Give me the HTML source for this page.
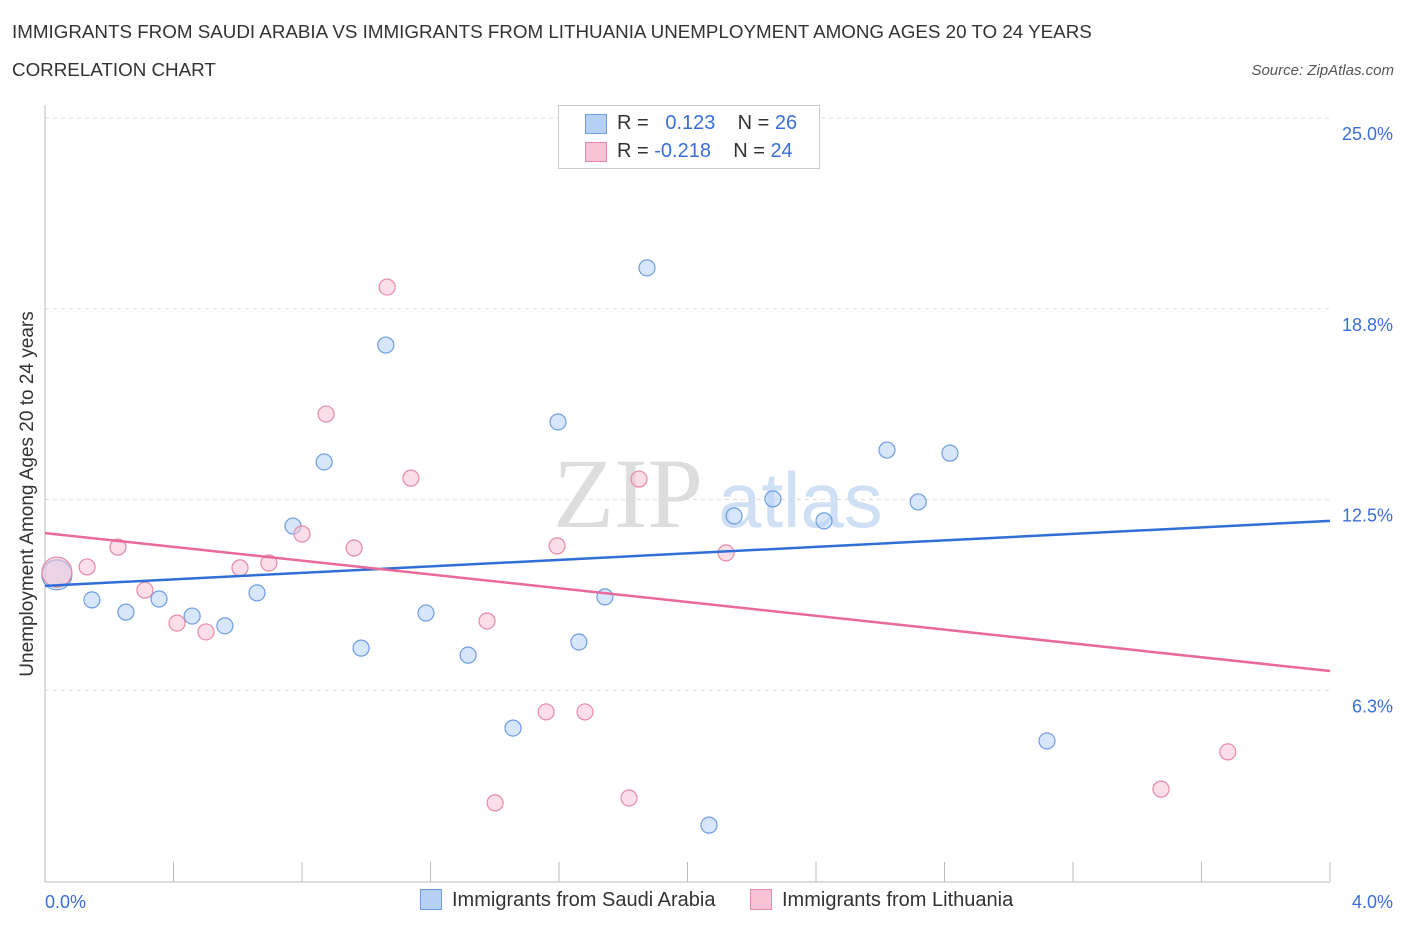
<!DOCTYPE html>
<html><head><meta charset="utf-8"><style>
body{margin:0;background:#fff;font-family:"Liberation Sans",sans-serif;}
#wrap{position:relative;width:1406px;height:930px;overflow:hidden;}
.t{position:absolute;white-space:nowrap;}
</style></head><body>
<div id="wrap">
<div class="t" style="left:12px;top:21px;font-size:18.8px;color:#333;">IMMIGRANTS FROM SAUDI ARABIA VS IMMIGRANTS FROM LITHUANIA UNEMPLOYMENT AMONG AGES 20 TO 24 YEARS</div>
<div class="t" style="left:12px;top:59px;font-size:18.8px;color:#333;">CORRELATION CHART</div>
<div class="t" style="right:12px;top:62px;font-size:15px;color:#555;font-style:italic;">Source: ZipAtlas.com</div>
<svg id="svg" width="1406" height="930" style="position:absolute;left:0;top:0"></svg>
</div>
<script>
const blueX=[0.037,0.146,0.252,0.355,0.458,0.560,0.660,0.772,0.869,0.984,1.061,1.186,1.317,1.457,1.597,1.662,1.743,1.874,2.067,2.145,2.266,2.425,2.621,2.718,2.817,3.119];
const blueY=[10.03,9.21,8.81,9.24,8.68,8.36,9.44,11.63,13.73,7.63,17.56,8.78,7.40,5.01,15.04,7.83,9.31,20.09,1.83,11.96,12.52,11.80,14.12,12.42,14.02,4.59];
const pinkX=[0.037,0.131,0.227,0.311,0.411,0.501,0.607,0.697,0.800,0.875,0.962,1.065,1.139,1.376,1.401,1.560,1.594,1.681,1.818,1.849,2.120,2.328,3.474,3.682];
const pinkY=[10.12,10.29,10.94,9.53,8.45,8.16,10.26,10.42,11.37,15.30,10.91,19.46,13.20,8.52,2.56,5.54,10.98,5.54,2.72,13.17,10.75,24.15,3.01,4.23];
const blueTrend=[9.67,11.80];
const pinkTrend=[11.40,6.88];
const yTicks=[6.25,12.5,18.75,25];
const yTickLabels=["6.3%","12.5%","18.8%","25.0%"];
const xAxisLabels=["0.0%","4.0%"];
const NS="http://www.w3.org/2000/svg";
const svg=document.getElementById('svg');
const X=v=>45+v/4*1285, Y=v=>881-v/25*763;
function mk(tag,a){const e=document.createElementNS(NS,tag);for(const k in a)e.setAttribute(k,a[k]);svg.appendChild(e);return e;}
yTicks.forEach((t,i)=>{
 const g=mk('line',{x1:45,x2:1330,y1:Y(t),y2:Y(t),stroke:'#ddd','stroke-dasharray':'4,4'});
 
 
 const tx=mk('text',{x:1393,y:Y(t)+22,'text-anchor':'end','font-size':18,fill:'#3a6fd8','font-family':'Liberation Sans'});
 tx.textContent=yTickLabels[i];
 
 
});
let ax=mk('line',{x1:45,x2:45,y1:105,y2:882,stroke:'#bbb'});


ax=mk('line',{x1:45,x2:1330,y1:882,y2:882,stroke:'#bbb'});


for(let i=1;i<=10;i++){const x=45+i*128.5;const tk=mk('line',{x1:x,x2:x,y1:862,y2:882,stroke:'#bbb'});
 
 }
let wm=mk('text',{x:553,y:527,'font-size':100,fill:'#ddd','font-family':'Liberation Serif'});wm.textContent='ZIP';


wm=mk('text',{x:718,y:527,'font-size':78,fill:'#cfe0f5','font-family':'Liberation Sans'});wm.textContent='atlas';


function pts(xs,ys,fill,stroke,name){xs.forEach((x,i)=>{const c=mk('circle',{cx:X(x),cy:Y(ys[i]),r:i==0?15:8,fill:fill,stroke:stroke,'stroke-width':1.2,'fill-opacity':0.55});
 
 });}
pts(blueX,blueY,'#b7d1f5','#6d9de0','saudi-arabia-point');
pts(pinkX,pinkY,'#f8c3d3','#e58aa8','lithuania-point');
let l=mk('line',{x1:X(0),y1:Y(blueTrend[0]),x2:X(4),y2:Y(blueTrend[1]),stroke:'#2f6fd6','stroke-width':2.5});


l=mk('line',{x1:X(0),y1:Y(pinkTrend[0]),x2:X(4),y2:Y(pinkTrend[1]),stroke:'#e8699a','stroke-width':2.5});


xAxisLabels.forEach((s,i)=>{const t=mk('text',{x:i?1393:45,y:908,'text-anchor':i?'end':'start','font-size':18,fill:'#3a6fd8','font-family':'Liberation Sans'});t.textContent=s;
 
 });
</script>
<div class="t" style="left:28px;top:494px;transform:translate(-50%,-50%) rotate(-90deg);font-size:19px;color:#333;">Unemployment Among Ages 20 to 24 years</div>
<div style="position:absolute;left:558px;top:105px;width:260px;height:62px;border:1px solid #ccc;background:#fff;font-size:20px;color:#333;">
 <div style="position:absolute;left:26px;top:8px;width:20px;height:18px;background:#b7d1f5;border:1px solid #6d9de0"></div>
 <div class="t" style="left:58px;top:6px">R = &nbsp;&nbsp;<span style="color:#3a6fd8">0.123</span>&nbsp;&nbsp;&nbsp; N = <span style="color:#3a6fd8">26</span></div>
 <div style="position:absolute;left:26px;top:36px;width:20px;height:18px;background:#f8c3d3;border:1px solid #e58aa8"></div>
 <div class="t" style="left:58px;top:34px">R = <span style="color:#3a6fd8">-0.218</span>&nbsp;&nbsp;&nbsp; N = <span style="color:#3a6fd8">24</span></div>
</div>
<div style="position:absolute;left:420px;top:889px;font-size:20px;color:#333;">
 <span style="display:inline-block;width:20px;height:19px;background:#b7d1f5;border:1px solid #6d9de0;vertical-align:-4px;margin-right:10px"></span>Immigrants from Saudi Arabia</div>
<div style="position:absolute;left:750px;top:889px;font-size:20px;color:#333;">
 <span style="display:inline-block;width:20px;height:19px;background:#f8c3d3;border:1px solid #e58aa8;vertical-align:-4px;margin-right:10px"></span>Immigrants from Lithuania</div>
</body></html>
